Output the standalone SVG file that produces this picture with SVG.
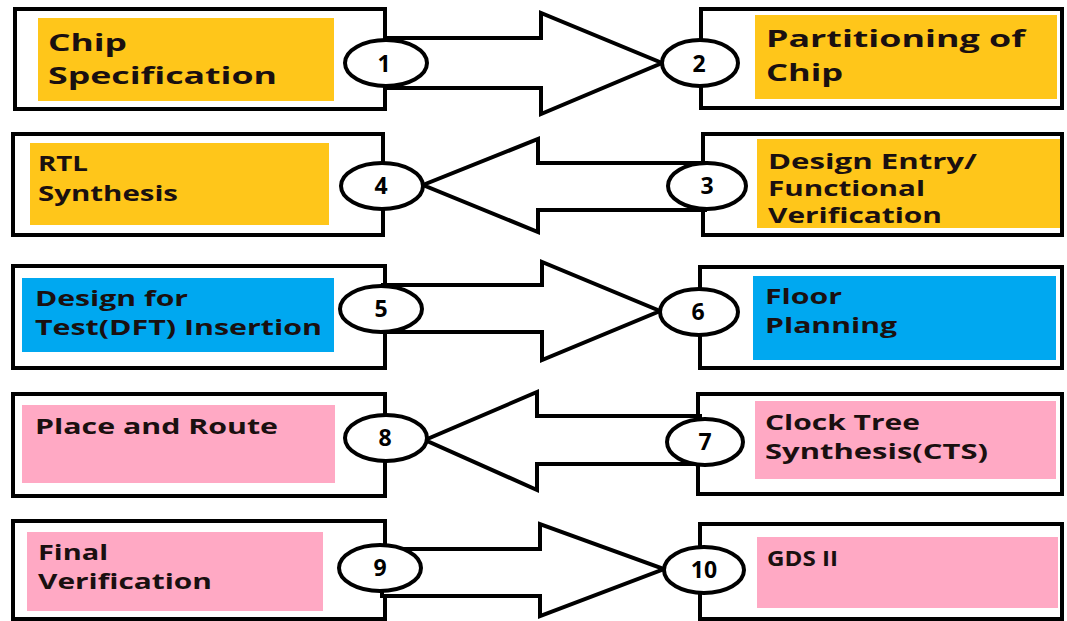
<svg xmlns="http://www.w3.org/2000/svg" width="1067" height="621" viewBox="0 0 1067 621">
  <style>
    .frame { fill: #ffffff; stroke: #000000; stroke-width: 4; }
    .yellow { fill: #FFC61A; }
    .blue { fill: #00A8F0; }
    .pink { fill: #FFA9C4; }
    .label { font-family: "Open Sans", "Liberation Sans", sans-serif; font-weight: bold; fill: #1a1010; }
    .big { font-size: 24px; }
    .small { font-size: 22px; }
    .arrow { fill: #ffffff; stroke: #000000; stroke-width: 4; stroke-linejoin: miter; }
    .badge ellipse { fill: #ffffff; stroke: #000000; stroke-width: 4; }
    .badge text { font-family: "Open Sans", "Liberation Sans", sans-serif; font-weight: bold; font-size: 23px; fill: #000000; text-anchor: middle; }
  </style>

  <!-- step boxes -->
  <g id="step1">
    <rect class="frame" x="15" y="9" width="370" height="100"/>
    <rect class="yellow" x="38" y="18" width="296" height="83"/>
    <text class="label big" x="48" y="51" textLength="79" lengthAdjust="spacingAndGlyphs">Chip</text>
    <text class="label big" x="48" y="84" textLength="229" lengthAdjust="spacingAndGlyphs">Specification</text>
  </g>
  <g id="step2">
    <rect class="frame" x="701" y="9" width="361" height="99"/>
    <rect class="yellow" x="755" y="15" width="302" height="84"/>
    <text class="label big" x="766" y="47" textLength="259" lengthAdjust="spacingAndGlyphs">Partitioning of</text>
    <text class="label big" x="766" y="81" textLength="77" lengthAdjust="spacingAndGlyphs">Chip</text>
  </g>
  <g id="step3">
    <rect class="frame" x="703" y="134" width="359" height="101"/>
    <rect class="yellow" x="757" y="139" width="303" height="89"/>
    <text class="label small" x="768" y="169" textLength="209" lengthAdjust="spacingAndGlyphs">Design Entry/</text>
    <text class="label small" x="768" y="196" textLength="157" lengthAdjust="spacingAndGlyphs">Functional</text>
    <text class="label small" x="768" y="223" textLength="174" lengthAdjust="spacingAndGlyphs">Verification</text>
  </g>
  <g id="step4">
    <rect class="frame" x="13" y="134" width="370" height="101"/>
    <rect class="yellow" x="30" y="143" width="299" height="82"/>
    <text class="label small" x="38" y="171" textLength="50" lengthAdjust="spacingAndGlyphs">RTL</text>
    <text class="label small" x="38" y="201" textLength="140" lengthAdjust="spacingAndGlyphs">Synthesis</text>
  </g>
  <g id="step5">
    <rect class="frame" x="13" y="266" width="372" height="102"/>
    <rect class="blue" x="22" y="278" width="312" height="74"/>
    <text class="label small" x="35" y="306" textLength="153" lengthAdjust="spacingAndGlyphs">Design for</text>
    <text class="label small" x="35" y="335" textLength="287" lengthAdjust="spacingAndGlyphs">Test(DFT) Insertion</text>
  </g>
  <g id="step6">
    <rect class="frame" x="700" y="267" width="362" height="101"/>
    <rect class="blue" x="753" y="276" width="303" height="84"/>
    <text class="label small" x="765" y="304" textLength="77" lengthAdjust="spacingAndGlyphs">Floor</text>
    <text class="label small" x="765" y="333" textLength="132" lengthAdjust="spacingAndGlyphs">Planning</text>
  </g>
  <g id="step7">
    <rect class="frame" x="698" y="394" width="364" height="100"/>
    <rect class="pink" x="755" y="401" width="301" height="78"/>
    <text class="label small" x="765" y="430" textLength="155" lengthAdjust="spacingAndGlyphs">Clock Tree</text>
    <text class="label small" x="765" y="459" textLength="223" lengthAdjust="spacingAndGlyphs">Synthesis(CTS)</text>
  </g>
  <g id="step8">
    <rect class="frame" x="13" y="394" width="372" height="102"/>
    <rect class="pink" x="22" y="405" width="313" height="78"/>
    <text class="label small" x="35" y="434" textLength="243" lengthAdjust="spacingAndGlyphs">Place and Route</text>
  </g>
  <g id="step9">
    <rect class="frame" x="13" y="521" width="372" height="98"/>
    <rect class="pink" x="27" y="532" width="296" height="79"/>
    <text class="label small" x="38" y="560" textLength="70" lengthAdjust="spacingAndGlyphs">Final</text>
    <text class="label small" x="38" y="589" textLength="174" lengthAdjust="spacingAndGlyphs">Verification</text>
  </g>
  <g id="step10">
    <rect class="frame" x="700" y="524" width="362" height="95"/>
    <rect class="pink" x="757" y="537" width="301" height="71"/>
    <text class="label small" x="767" y="566" textLength="71" lengthAdjust="spacingAndGlyphs">GDS II</text>
  </g>

  <!-- block arrows between steps -->
  <g id="connectors">
    <polygon class="arrow" points="385,38 541,38 541,13 662,63 541,114 541,88 385,88"/>
    <polygon class="arrow" points="705,163 538,163 538,139 423,185 538,232 538,210 705,210"/>
    <polygon class="arrow" points="383,285 542,285 542,262 660,311 542,360 542,332 383,332"/>
    <polygon class="arrow" points="700,416 537,416 537,392 425,440 537,490 537,464 700,464"/>
    <polygon class="arrow" points="382,549 540,549 540,524 664,569 540,616 540,596 382,596"/>
  </g>

  <!-- step numbers -->
  <g id="badges">
    <g class="badge"><ellipse cx="386" cy="63" rx="41" ry="23"/><text x="384" y="72">1</text></g>
    <g class="badge"><ellipse cx="700" cy="63" rx="38" ry="23"/><text x="699" y="72">2</text></g>
    <g class="badge"><ellipse cx="707" cy="186" rx="39" ry="23"/><text x="707" y="194">3</text></g>
    <g class="badge"><ellipse cx="382" cy="186" rx="41" ry="23"/><text x="381" y="194">4</text></g>
    <g class="badge"><ellipse cx="381" cy="309" rx="41" ry="23"/><text x="381" y="317">5</text></g>
    <g class="badge"><ellipse cx="699" cy="312" rx="39" ry="23"/><text x="698" y="320">6</text></g>
    <g class="badge"><ellipse cx="705" cy="442" rx="38" ry="23"/><text x="705" y="450">7</text></g>
    <g class="badge"><ellipse cx="386" cy="438" rx="41" ry="23"/><text x="385" y="446">8</text></g>
    <g class="badge"><ellipse cx="380" cy="568" rx="41" ry="23"/><text x="380" y="576">9</text></g>
    <g class="badge"><ellipse cx="704" cy="570" rx="40" ry="23"/><text x="704" y="578">10</text></g>
  </g>
</svg>
